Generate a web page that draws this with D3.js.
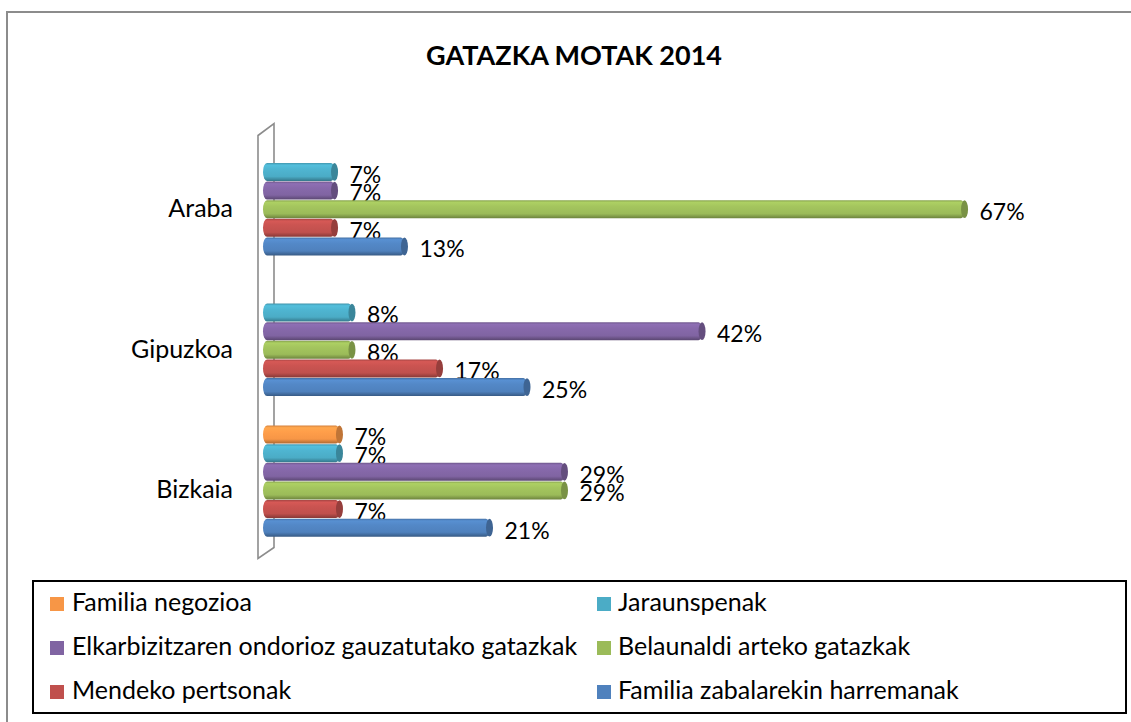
<!DOCTYPE html>
<html>
<head>
<meta charset="utf-8">
<script src="https://cdn.jsdelivr.net/npm/d3@7"></script>
<style>
  body { margin: 0; background: #fff; }
  text { font-family: Lato, "Open Sans", sans-serif; fill: #000; }
</style>
</head>
<body>
<script>
// data (shares per province, in %)
var provinces = ['Araba', 'Gipuzkoa', 'Bizkaia'];
var series = [
  'Familia negozioa',
  'Jaraunspenak',
  'Elkarbizitzaren ondorioz gauzatutako gatazkak',
  'Belaunaldi arteko gatazkak',
  'Mendeko pertsonak',
  'Familia zabalarekin harremanak'
];
var colors = ['#F79646', '#4BACC6', '#8064A2', '#9BBB59', '#C0504D', '#4F81BD'];
var familiaNegozioa = [null, null, 7.14];
var jaraunspenak = [6.67, 8.33, 7.14];
var elkarbizitza = [6.67, 41.67, 28.57];
var belaunaldi = [66.67, 8.33, 28.57];
var mendeko = [6.67, 16.67, 7.14];
var familiaZabala = [13.33, 25, 21.43];
var values = [familiaNegozioa, jaraunspenak, elkarbizitza, belaunaldi, mendeko, familiaZabala];

var W = 1131, H = 722;

var svg = d3.select('body').append('svg')
  .attr('width', W)
  .attr('height', H);

// gradients for the cylinder look
var defs = svg.append('defs');
colors.forEach(function(c, i) {
  var base = d3.color(c);
  var g = defs.append('linearGradient')
    .attr('id', 'grad' + i)
    .attr('x1', 0).attr('y1', 0).attr('x2', 0).attr('y2', 1);
  g.append('stop').attr('offset', '0%').attr('stop-color', base.darker(0.4));
  g.append('stop').attr('offset', '12%').attr('stop-color', base.brighter(0.3));
  g.append('stop').attr('offset', '35%').attr('stop-color', base.brighter(0.15));
  g.append('stop').attr('offset', '75%').attr('stop-color', base);
  g.append('stop').attr('offset', '100%').attr('stop-color', base.darker(1));
});

// outer frame
svg.append('rect')
  .attr('x', 7).attr('y', 12)
  .attr('width', W + 20).attr('height', H + 20)
  .attr('fill', 'none')
  .attr('stroke', '#8c8c8c')
  .attr('stroke-width', 2);

svg.append('text')
  .attr('x', 574)
  .attr('y', 65)
  .attr('text-anchor', 'middle')
  .style('font-size', '27px')
  .style('font-weight', 'bold')
  .text('GATAZKA MOTAK 2014');

var x = d3.scaleLinear()
  .domain([0, 70])
  .range([267.5, 1002.5]);

var y = d3.scaleBand()
  .domain(provinces)
  .range([129.5, 551.5])
  .paddingInner(0.205)
  .paddingOuter(0.103);

var ys = d3.scaleBand()
  .domain(series)
  .range([0, y.bandwidth()]);

// the thin 3d wall behind the bars
var wallTop = y.range()[0], wallBot = y.range()[1];
svg.append('path')
  .attr('d', 'M258,' + (wallTop + 6) + 'L274,' + (wallTop - 6) + 'L274,' + (wallBot - 4) +
    'L258,' + (wallBot + 7) + 'Z')
  .attr('fill', '#fff')
  .attr('stroke', '#8c8c8c')
  .attr('stroke-width', 1.6);

// category labels
svg.selectAll('.cat')
  .data(provinces)
  .enter().append('text')
  .attr('class', 'cat')
  .attr('x', 233)
  .attr('y', function(d) { return y(d) + y.bandwidth() / 2 + 11; })
  .attr('text-anchor', 'end')
  .attr('dominant-baseline', 'middle')
  .style('font-size', '25px')
  .text(function(d) { return d; });

var bars = [];
values.forEach(function(vals, si) {
  vals.forEach(function(v, pi) {
    if (v !== null) bars.push({ s: si, p: provinces[pi], v: v });
  });
});

var bh = ys.bandwidth();
var g = svg.selectAll('.bar')
  .data(bars)
  .enter().append('g')
  .attr('class', 'bar')
  .attr('transform', function(d) {
    return 'translate(0,' + (y(d.p) + ys(series[d.s])) + ')';
  });

g.append('rect')
  .attr('x', x(0) - 4.5)
  .attr('y', 0.3)
  .attr('height', bh - 0.6)
  .attr('width', function(d) { return x(d.v) - x(0) + 2; })
  .attr('rx', 4).attr('ry', bh / 2)
  .attr('fill', function(d) { return 'url(#grad' + d.s + ')'; });

g.append('ellipse')
  .attr('cx', function(d) { return x(d.v) - 3; })
  .attr('cy', bh / 2)
  .attr('rx', 3.5)
  .attr('ry', bh / 2 - 0.4)
  .attr('fill', function(d) { return d3.color(colors[d.s]).darker(0.7); });

g.append('text')
  .attr('x', function(d) { return x(d.v) + 12; })
  .attr('y', bh / 2 + 5)
  .attr('dominant-baseline', 'middle')
  .style('font-size', '23px')
  .text(function(d) { return Math.round(d.v) + '%'; });

// legend
svg.append('rect')
  .attr('x', 33).attr('y', 581)
  .attr('width', 1093).attr('height', 132)
  .attr('fill', 'none')
  .attr('stroke', '#000')
  .attr('stroke-width', 2);

var lg = svg.selectAll('.leg')
  .data(series)
  .enter().append('g')
  .attr('class', 'leg')
  .attr('transform', function(d, i) {
    return 'translate(' + (i % 2 === 0 ? 50 : 597) + ',' + (604 + Math.floor(i / 2) * 44) + ')';
  });

lg.append('rect')
  .attr('x', 0).attr('y', -7)
  .attr('width', 14).attr('height', 14)
  .attr('fill', function(d, i) { return colors[i]; });

lg.append('text')
  .attr('x', function(d, i) { return i % 2 === 0 ? 22 : 21; })
  .attr('y', 1)
  .attr('dominant-baseline', 'middle')
  .style('font-size', '25px')
  .text(function(d) { return d; });
</script>
</body>
</html>
